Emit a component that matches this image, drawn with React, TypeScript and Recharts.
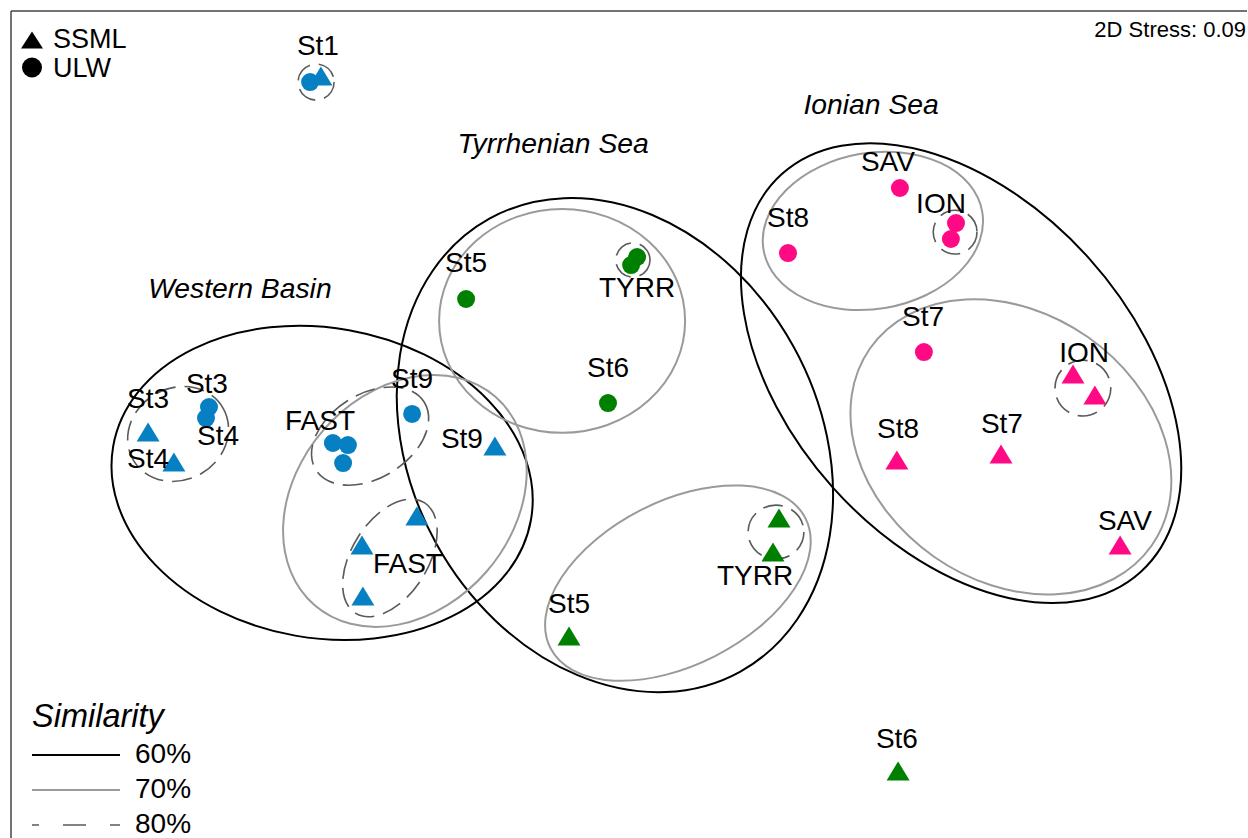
import { ScatterChart, Scatter, XAxis, YAxis, ReferenceArea, ReferenceLine, Customized } from 'recharts';

const BLUE = '#0780c3';
const GREEN = '#008000';
const PINK = '#ff0a84';
const FONT = '"Liberation Sans", Arial, sans-serif';

// NMDS ordination scores (axis 1 / axis 2), ULW samples = circles, SSML samples = triangles
const westernULW = [
  { station: 'St1', x: -1.063, y: 1.123 },
  { station: 'St3', x: -1.4, y: 0.04 },
  { station: 'St4', x: -1.41, y: 0.003 },
  { station: 'FAST', x: -0.987, y: -0.08 },
  { station: 'FAST', x: -0.937, y: -0.087 },
  { station: 'FAST', x: -0.953, y: -0.147 },
  { station: 'St9', x: -0.723, y: 0.017 },
];
const westernSSML = [
  { station: 'St1', x: -1.027, y: 1.143 },
  { station: 'St3', x: -1.603, y: -0.043 },
  { station: 'St4', x: -1.517, y: -0.143 },
  { station: 'St9', x: -0.447, y: -0.09 },
  { station: 'FAST', x: -0.707, y: -0.323 },
  { station: 'FAST', x: -0.89, y: -0.42 },
  { station: 'FAST', x: -0.887, y: -0.59 },
];
const tyrrULW = [
  { station: 'St5', x: -0.543, y: 0.4 },
  { station: 'TYRR', x: 0.027, y: 0.54 },
  { station: 'TYRR', x: 0.007, y: 0.513 },
  { station: 'St6', x: -0.07, y: 0.053 },
];
const tyrrSSML = [
  { station: 'TYRR', x: 0.5, y: -0.33 },
  { station: 'TYRR', x: 0.48, y: -0.443 },
  { station: 'St5', x: -0.2, y: -0.723 },
  { station: 'St6', x: 0.897, y: -1.173 },
];
const ionianULW = [
  { station: 'SAV', x: 0.903, y: 0.77 },
  { station: 'ION', x: 1.09, y: 0.653 },
  { station: 'ION', x: 1.073, y: 0.6 },
  { station: 'St8', x: 0.53, y: 0.553 },
  { station: 'St7', x: 0.983, y: 0.223 },
];
const ionianSSML = [
  { station: 'ION', x: 1.48, y: 0.15 },
  { station: 'ION', x: 1.553, y: 0.08 },
  { station: 'St8', x: 0.893, y: -0.137 },
  { station: 'St7', x: 1.24, y: -0.117 },
  { station: 'SAV', x: 1.637, y: -0.42 },
];

// sample labels, anchored in ordination space
const sampleLabels = [
  { text: 'St1', x: -1.037, y: 1.213 },
  { text: 'St3', x: -1.407, y: 0.087 },
  { text: 'St3', x: -1.603, y: 0.037 },
  { text: 'St4', x: -1.37, y: -0.087 },
  { text: 'St4', x: -1.603, y: -0.163 },
  { text: 'FAST', x: -1.03, y: -0.037 },
  { text: 'St9', x: -0.723, y: 0.103 },
  { text: 'St9', x: -0.557, y: -0.097 },
  { text: 'FAST', x: -0.737, y: -0.513 },
  { text: 'St5', x: -0.543, y: 0.49 },
  { text: 'TYRR', x: 0.027, y: 0.407 },
  { text: 'St6', x: -0.07, y: 0.14 },
  { text: 'TYRR', x: 0.42, y: -0.553 },
  { text: 'St5', x: -0.2, y: -0.647 },
  { text: 'St6', x: 0.893, y: -1.097 },
  { text: 'SAV', x: 0.863, y: 0.827 },
  { text: 'ION', x: 1.04, y: 0.687 },
  { text: 'St8', x: 0.53, y: 0.64 },
  { text: 'St7', x: 0.98, y: 0.31 },
  { text: 'ION', x: 1.517, y: 0.19 },
  { text: 'St8', x: 0.897, y: -0.063 },
  { text: 'St7', x: 1.243, y: -0.047 },
  { text: 'SAV', x: 1.653, y: -0.37 },
];
const groupLabels = [
  { text: 'Western Basin', x: -1.297, y: 0.403 },
  { text: 'Tyrrhenian Sea', x: -0.253, y: 0.887 },
  { text: 'Ionian Sea', x: 0.807, y: 1.017 },
];

// cluster similarity contours: centre, semi-axes, tilt (deg)
const contours60 = [
  { cx: -1.023, cy: -0.213, a: 0.707, b: 0.517, angle: 10 },
  { cx: -0.047, cy: -0.087, a: 0.863, b: 0.68, angle: 61 },
  { cx: 1.107, cy: 0.153, a: 0.893, b: 0.573, angle: 48 },
];
const contours70 = [
  { cx: 0.813, cy: 0.627, a: 0.37, b: 0.26, angle: -10 },
  { cx: 1.273, cy: -0.093, a: 0.573, b: 0.447, angle: 35 },
  { cx: -0.223, cy: 0.327, a: 0.41, b: 0.373, angle: 0 },
  { cx: 0.163, cy: -0.547, a: 0.477, b: 0.273, angle: -27 },
  { cx: -0.747, cy: -0.273, a: 0.46, b: 0.36, angle: -49 },
];
const contours80 = [
  { cx: -1.043, cy: 1.123, a: 0.06, b: 0.06, angle: 0 },
  { cx: -1.503, cy: -0.05, a: 0.173, b: 0.153, angle: -30 },
  { cx: -0.863, cy: -0.057, a: 0.213, b: 0.14, angle: -32 },
  { cx: -0.797, cy: -0.463, a: 0.217, b: 0.127, angle: -58 },
  { cx: 0.013, cy: 0.53, a: 0.057, b: 0.057, angle: 0 },
  { cx: 0.49, cy: -0.377, a: 0.093, b: 0.09, angle: 0 },
  { cx: 1.087, cy: 0.623, a: 0.073, b: 0.073, angle: 0 },
  { cx: 1.513, cy: 0.103, a: 0.093, b: 0.093, angle: 0 },
];

const similarityLevels = ['60%', '70%', '80%'];
const X_DOMAIN = [-2.06, 2.06];
const Y_DOMAIN = [-1.3967, 1.36];

const levelStyle: Record<string, any> = {
  '60%': { stroke: '#000', strokeWidth: 2 },
  '70%': { stroke: '#9a9a9a', strokeWidth: 2 },
  '80%': { stroke: '#5a5a5a', strokeWidth: 1.6, strokeDasharray: '20 9' },
};

const circleShape = (color: string) => (props: any) => (
  <circle cx={props.cx} cy={props.cy} r={9} fill={color} />
);
const triangleShape = (color: string) => (props: any) => {
  const { cx, cy } = props;
  return <polygon points={`${cx},${cy - 9.5} ${cx + 11.5},${cy + 9.5} ${cx - 11.5},${cy + 9.5}`} fill={color} />;
};

const ellipseShape = (angle: number, style: any) => (props: any) => {
  const { x, y, width, height } = props;
  const cx = x + width / 2;
  const cy = y + height / 2;
  return (
    <ellipse cx={cx} cy={cy} rx={width / 2} ry={height / 2} fill="none" {...style}
      transform={`rotate(${angle} ${cx} ${cy})`} />
  );
};

const textShape = (size: number, italic: boolean) => (props: any) => (
  <text x={props.cx} y={props.cy} textAnchor="middle" fontFamily={FONT} fontSize={size}
    fontStyle={italic ? 'italic' : 'normal'} fill="#000">{props.payload.text}</text>
);

const Legends = () => (
  <g fontFamily={FONT} fill="#000">
    <polygon points="32,31.5 43,48.5 21,48.5" fill="#000" />
    <text x={53} y={48} fontSize={27}>SSML</text>
    <circle cx={32} cy={67.5} r={10} fill="#000" />
    <text x={53} y={77} fontSize={27}>ULW</text>
    <text x={1246} y={37} fontSize={22} textAnchor="end">2D Stress: 0.09</text>
    <text x={32} y={727} fontSize={32.5} fontStyle="italic">Similarity</text>
    {similarityLevels.map((lvl, i) => (
      <g key={lvl}>
        <line x1={32} x2={120} y1={755 + i * 35} y2={755 + i * 35} {...levelStyle[lvl]}
          strokeDasharray={lvl === '80%' ? '23 24' : undefined} strokeDashoffset={16} />
        <text x={135} y={763 + i * 35} fontSize={28}>{lvl}</text>
      </g>
    ))}
  </g>
);

const renderContours = (list: any[], level: string) =>
  list.map((c, i) => (
    <ReferenceArea key={`${level}-${i}`} x1={c.cx - c.a} x2={c.cx + c.a} y1={c.cy - c.b} y2={c.cy + c.b}
      ifOverflow="visible" shape={ellipseShape(c.angle, levelStyle[level])} />
  ));

export default function App() {
  return (
    <div style={{ position: 'absolute', left: 0, top: 0, width: 1248, height: 838, background: '#fff' }}>
      <ScatterChart width={1248} height={838} margin={{ top: 11, right: 1, left: 11, bottom: 0 }}>
        <XAxis type="number" dataKey="x" domain={X_DOMAIN} hide allowDataOverflow />
        <YAxis type="number" dataKey="y" domain={Y_DOMAIN} hide allowDataOverflow />
        <ReferenceLine x={X_DOMAIN[0]} stroke="#444" strokeWidth={1.5} />
        <ReferenceLine y={Y_DOMAIN[1]} stroke="#444" strokeWidth={1.5} />
        {renderContours(contours60, '60%')}
        {renderContours(contours70, '70%')}
        {renderContours(contours80, '80%')}
        <Scatter data={westernULW} shape={circleShape(BLUE)} isAnimationActive={false} />
        <Scatter data={westernSSML} shape={triangleShape(BLUE)} isAnimationActive={false} />
        <Scatter data={tyrrULW} shape={circleShape(GREEN)} isAnimationActive={false} />
        <Scatter data={tyrrSSML} shape={triangleShape(GREEN)} isAnimationActive={false} />
        <Scatter data={ionianULW} shape={circleShape(PINK)} isAnimationActive={false} />
        <Scatter data={ionianSSML} shape={triangleShape(PINK)} isAnimationActive={false} />
        <Scatter data={sampleLabels} shape={textShape(28, false)} isAnimationActive={false} />
        <Scatter data={groupLabels} shape={textShape(28.3, true)} isAnimationActive={false} />
        <Customized component={Legends} />
      </ScatterChart>
    </div>
  );
}
